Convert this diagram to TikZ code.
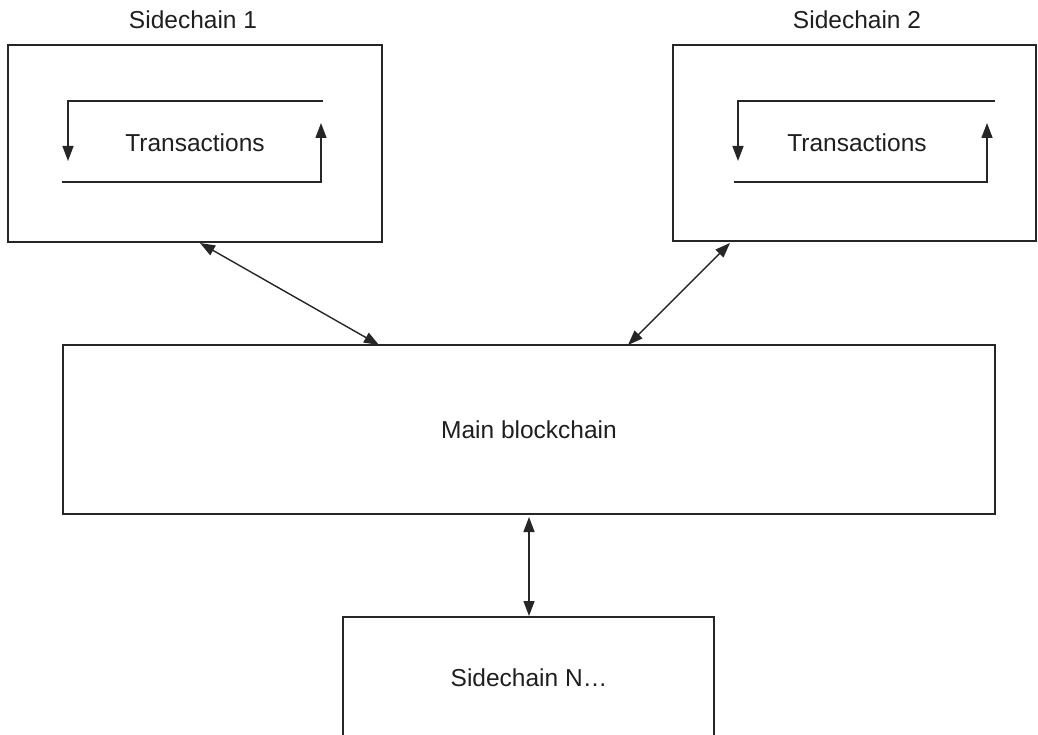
\documentclass[tikz,border=0pt]{standalone}
\usepackage{fontspec}
\setmainfont{Liberation Sans}
\usetikzlibrary{arrows.meta}
\begin{document}
\begin{tikzpicture}[x=1pt,y=-1pt,
  box/.style={draw=black!85,line width=1.5pt,minimum width=#1,inner sep=0pt},
  lbl/.style={font=\fontsize{24.5}{28}\selectfont,text=black!88,inner sep=0pt},
  conn/.style={draw=black!85,line width=1.4pt,{Triangle[length=15pt,width=11pt]}-{Triangle[length=15pt,width=11pt]}},
  loop/.style={draw=black!85,line width=1.4pt,-{Triangle[length=15pt,width=11pt]}}]
\useasboundingbox (0,0) rectangle (1038,735);
\fill[white] (0,0) rectangle (1038,735);
% boxes
\node[box=374pt,minimum height=197pt] (s1) at (195,143.5) {};
\node[box=363pt,minimum height=196pt] (s2) at (854.5,143) {};
\node[box=932pt,minimum height=169pt] (mb) at (529,429.5) {};
\node[box=371pt,minimum height=130pt] (sn) at (528.5,682) {};
% labels
\node[lbl] (t1) at (193,20) {Sidechain 1};
\node[lbl] (t2) at (857,20) {Sidechain 2};
\node[lbl] (tr1) at (195,143) {Transactions};
\node[lbl] (tr2) at (857,143) {Transactions};
\node[lbl] (mbl) at (mb.center) {Main blockchain};
\node[lbl] (snl) at (529,678) {Sidechain N…};
% inner loops sidechain 1
\coordinate (a1) at (323,101);
\coordinate (a2) at (68,101);
\coordinate (a3) at (68,161);
\coordinate (b1) at (62,182);
\coordinate (b2) at (321,182);
\coordinate (b3) at (321,123);
\draw[loop] (a1) -- (a2) -- (a3);
\draw[loop] (b1) -- (b2) -- (b3);
% inner loops sidechain 2
\coordinate (c1) at (995,101);
\coordinate (c2) at (738,101);
\coordinate (c3) at (738,161);
\coordinate (d1) at (734,182);
\coordinate (d2) at (987,182);
\coordinate (d3) at (987,123);
\draw[loop] (c1) -- (c2) -- (c3);
\draw[loop] (d1) -- (d2) -- (d3);
% connectors
\coordinate (e1) at (200,243);
\coordinate (e2) at (379,345);
\coordinate (f1) at (730,243);
\coordinate (f2) at (628,345);
\coordinate (g1) at (529,517);
\coordinate (g2) at (529,616);
\draw[conn] (e1) -- (e2);
\draw[conn] (f1) -- (f2);
\draw[conn] (g1) -- (g2);
\end{tikzpicture}
\end{document}
